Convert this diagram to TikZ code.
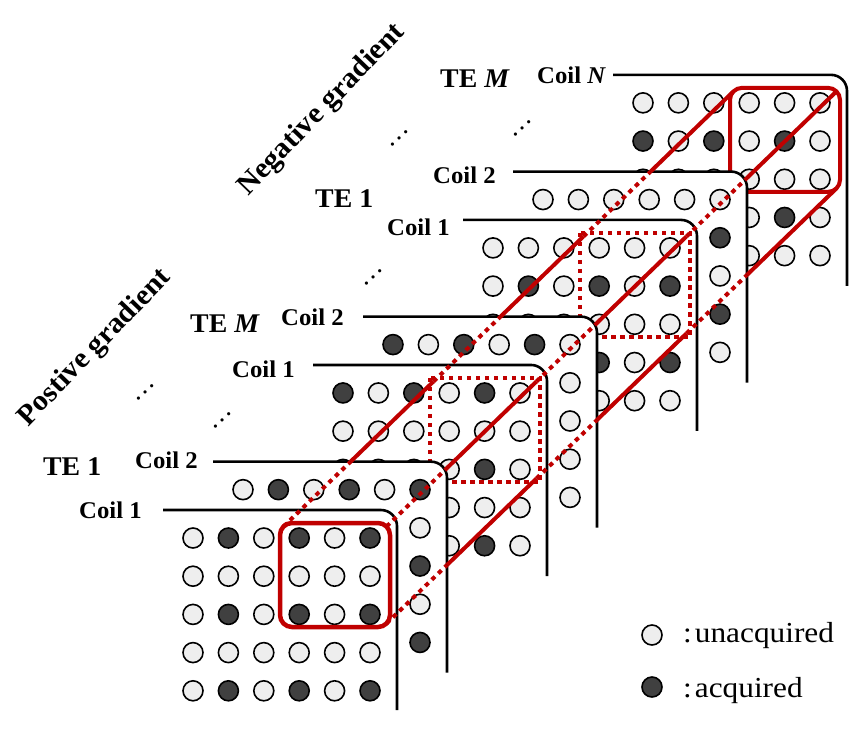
\documentclass[tikz,border=0pt]{standalone}
\usepackage{fontspec}
\setmainfont{Liberation Serif}
\newfontfamily\labfont[FakeStretch=1.03]{Liberation Serif}
\newfontfamily\legfont[FakeStretch=1.08]{Liberation Serif}
\usetikzlibrary{calc}
\definecolor{myred}{RGB}{192,0,0}
\definecolor{lightfill}{RGB}{238,238,238}
\definecolor{darkfill}{RGB}{64,64,64}
\tikzset{
  dot0/.style={fill=lightfill,draw=black,line width=1.6pt},
  dot1/.style={fill=darkfill,draw=black,line width=1.6pt},
  layerline/.style={draw=black,line width=2.6pt,rounded corners=16pt},
  layerfill/.style={fill=white,rounded corners=16pt},
  redsolid/.style={draw=myred,line width=4pt},
  reddot/.style={draw=myred,line width=4pt,dash pattern=on 4.5pt off 4.5pt},
  coillabel/.style={font=\labfont\bfseries\fontsize{24}{28}\selectfont,anchor=base west,inner sep=0pt},
  telabel/.style={font=\labfont\bfseries\fontsize{27}{32}\selectfont,anchor=base west,inner sep=0pt},
  gradlabel/.style={font=\labfont\bfseries\fontsize{29}{34}\selectfont,rotate=46,inner sep=0pt},
  legtext/.style={font=\legfont\fontsize{29}{34}\selectfont,anchor=base west,inner sep=0pt},
  ellip/.style={font=\fontsize{27}{30}\selectfont,rotate=43,anchor=base,inner sep=0pt},
}
\newcommand{\dotrow}[3]{%
  \foreach \dv [count=\ci from 0] in {#3} {%
    \pgfmathsetmacro{\ddx}{193+35.4*\ci+50*#1}%
    \pgfmathsetmacro{\ddy}{538+38.2*#2-48.35*#1}%
    \path[dot\dv] (\ddx,\ddy) circle[radius=10pt];
  }%
}
\newcommand{\drawlayer}[7]{%
  \pgfmathsetmacro{\lxs}{163+50*#1}%
  \pgfmathsetmacro{\lyl}{510-48.35*#1}%
  \pgfmathsetmacro{\lxv}{397+50*#1}%
  \path[layerfill] (\lxs,#2) -- (\lxs,\lyl) -- (\lxv,\lyl) -- (\lxv,#2) -- cycle;
  \dotrow{#1}{0}{#3}\dotrow{#1}{1}{#4}\dotrow{#1}{2}{#5}\dotrow{#1}{3}{#6}\dotrow{#1}{4}{#7}%
  \draw[layerline] (\lxs,\lyl) -- (\lxv,\lyl) -- (\lxv,#2);
}
\newcommand{\tubeline}[2]{%
  \draw[reddot] (#1) -- ($(#1)+#2*(S)$);
  \draw[redsolid] ($(#1)+#2*(S)$) -- ($(#1)+3*(S)$);
  \draw[reddot] ($(#1)+3*(S)$) -- ($(#1)+3*(S)+#2*(S)$);
  \draw[redsolid] ($(#1)+3*(S)+#2*(S)$) -- ($(#1)+6*(S)$);
  \draw[reddot] ($(#1)+6*(S)$) -- ($(#1)+6*(S)+#2*(S)$);
  \draw[redsolid] ($(#1)+6*(S)+#2*(S)$) -- ($(#1)+9*(S)$);
}
\begin{document}
\begin{tikzpicture}[x=1pt,y=-1pt]
\useasboundingbox (0,0) rectangle (868,748);
\fill[white] (0,0) rectangle (868,748);

% layers, back to front
\drawlayer{9}{285.85}{0,0,0,0,0,0}{1,0,1,0,1,0}{0,0,0,0,0,0}{1,0,1,0,1,0}{0,0,0,0,0,0}
\draw[redsolid,rounded corners=12pt] (730,87.85) rectangle (840,191.85);
\drawlayer{7}{382.55}{0,0,0,0,0,0}{0,1,0,1,0,1}{0,0,0,0,0,0}{0,1,0,1,0,1}{0,0,0,0,0,0}
\drawlayer{6}{430.9}{0,0,0,0,0,0}{0,1,0,1,0,1}{0,0,0,0,0,0}{0,1,0,1,0,1}{0,0,0,0,0,0}
\draw[reddot] (580,232.9) rectangle (690,336.9);
\drawlayer{4}{527.6}{1,0,1,0,1,0}{0,0,0,0,0,0}{1,0,1,0,1,0}{0,0,0,0,0,0}{1,0,1,0,1,0}
\drawlayer{3}{576}{1,0,1,0,1,0}{0,0,0,0,0,0}{1,0,1,0,1,0}{0,0,0,0,0,0}{1,0,1,0,1,0}
\draw[reddot] (430,377.95) rectangle (540,481.95);
\drawlayer{1}{672.65}{0,1,0,1,0,1}{0,0,0,0,0,0}{0,1,0,1,0,1}{0,0,0,0,0,0}{0,1,0,1,0,1}
\drawlayer{0}{710}{0,1,0,1,0,1}{0,0,0,0,0,0}{0,1,0,1,0,1}{0,0,0,0,0,0}{0,1,0,1,0,1}
\draw[redsolid,line width=4.5pt,rounded corners=12pt] (280,523) rectangle (390,627);

% tube edges
\coordinate (S) at (50,-48.35);
\coordinate (TL) at (283.5,526.5);
\coordinate (TR) at (386.5,526.5);
\coordinate (BR) at (386.5,623.5);
\tubeline{TL}{1.34}
\tubeline{TR}{1.17}
\tubeline{BR}{1.21}

% labels
\node[coillabel] (cA) at (79,518) {Coil 1};
\node[coillabel] (cB) at (135,468) {Coil 2};
\node[telabel] (teA) at (43,475) {TE 1};
\node[coillabel] (cC) at (232,377) {Coil 1};
\node[coillabel] (cD) at (281,325) {Coil 2};
\node[telabel] (teB) at (190,332) {TE \textit{M}};
\node[coillabel] (cE) at (387,235) {Coil 1};
\node[coillabel] (cF) at (433,183) {Coil 2};
\node[telabel] (teC) at (315,207) {TE 1};
\node[coillabel] (cG) at (537,83) {Coil \textit{N}};
\node[telabel] (teD) at (440,87) {TE \textit{M}};
\node[gradlabel] (neg) at (322,110) {Negative gradient};
\node[gradlabel] (pos) at (95,348) {Postive gradient};

% ellipses
\node[ellip] (e1) at (400,139) {…};
\node[ellip] (e2) at (374,278) {…};
\node[ellip] (e3) at (146,393) {…};
\node[ellip] (e4) at (223,421) {…};
\node[ellip] (e5) at (523,129) {…};

% legend
\path[dot0] (652,635) circle[radius=10pt];
\path[dot1] (652,687) circle[radius=10pt];
\node[legtext] (lg1) at (683,642) {:\hspace{3pt}unacquired};
\node[legtext] (lg2) at (683,697) {:\hspace{3pt}acquired};
\end{tikzpicture}
\end{document}
